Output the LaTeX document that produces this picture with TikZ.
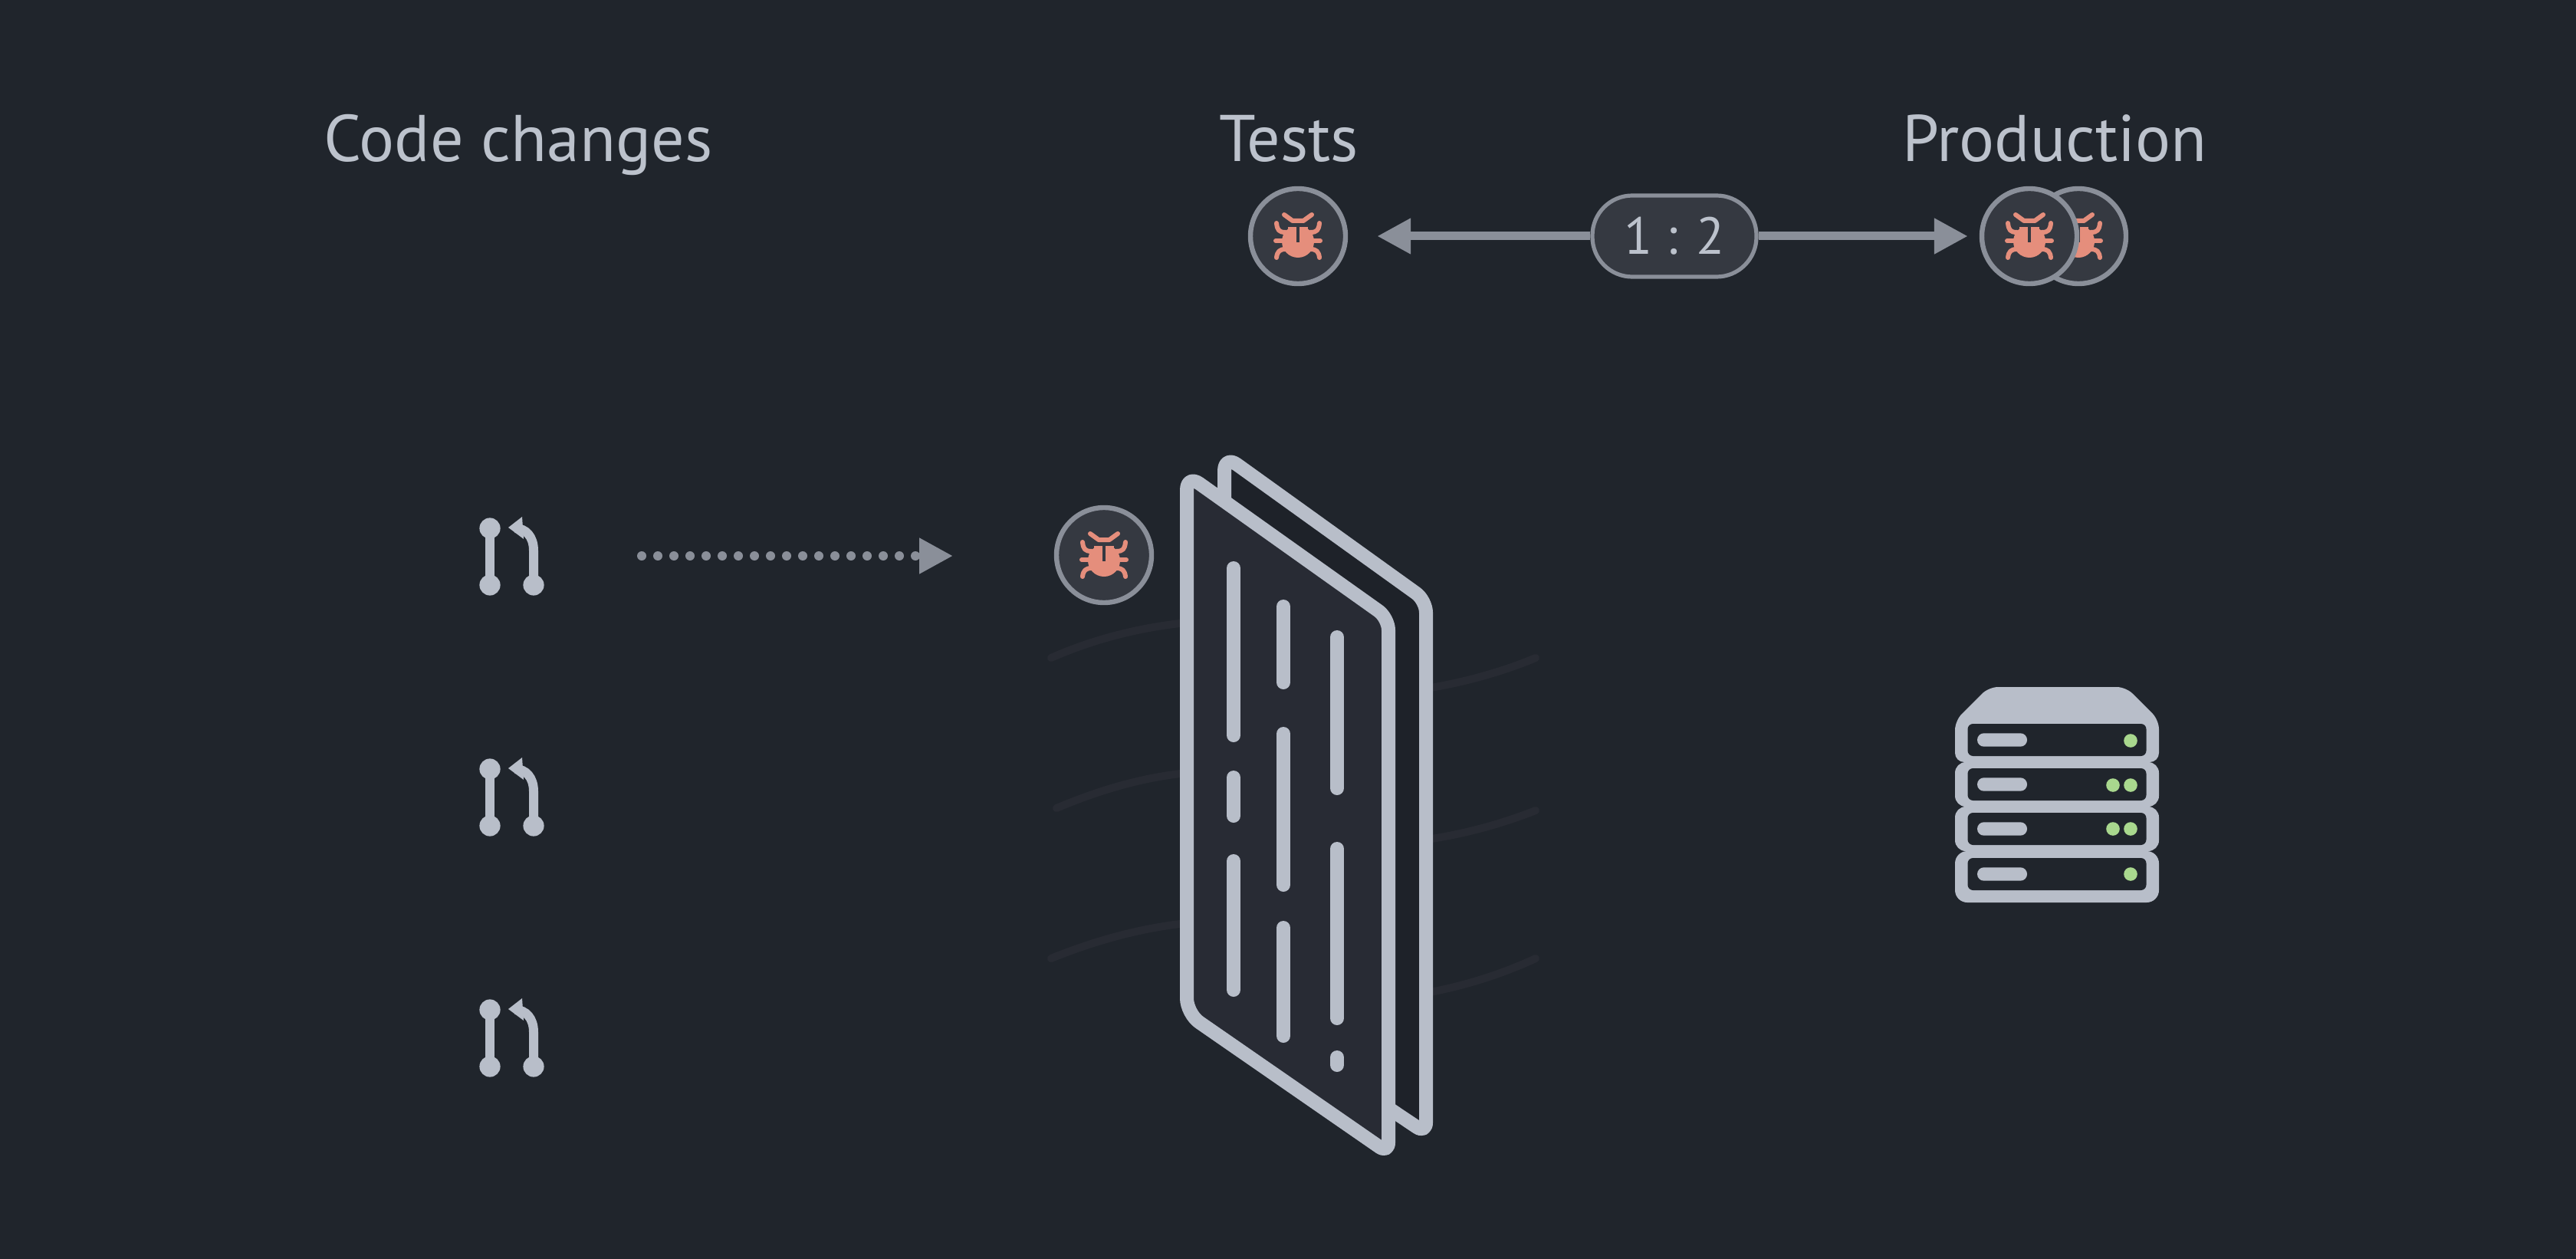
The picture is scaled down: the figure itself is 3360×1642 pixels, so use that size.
\documentclass[tikz,border=0pt]{standalone}
\usepackage{fontspec}
\setmainfont{PT Sans}
\usetikzlibrary{arrows.meta}
\definecolor{bgc}{HTML}{20252C}
\definecolor{lightc}{HTML}{B8BEC9}
\definecolor{textc}{HTML}{BCC2CC}
\definecolor{greyc}{HTML}{8A8F99}
\definecolor{discfill}{HTML}{353941}
\definecolor{bugc}{HTML}{E58E7C}
\definecolor{pagefill}{HTML}{282B34}
\definecolor{backfill}{HTML}{1E2229}
\definecolor{wavec}{HTML}{282B33}
\definecolor{greenc}{HTML}{A9D88E}
\tikzset{
  x=0.5pt,y=-0.5pt,
  title/.style={text=textc,font=\fontsize{43}{50}\selectfont,inner sep=0pt,anchor=base},
  bugdisc/.style={circle,draw=greyc,fill=discfill,line width=3.2pt,minimum size=62pt,inner sep=0pt},
  ratiopill/.style={draw=greyc,fill=discfill,line width=2.6pt,rounded corners=26pt,minimum width=107pt,minimum height=53pt,inner sep=0pt,text=textc,font=\fontsize{34}{42}\selectfont},
  conn/.style={draw=greyc,line width=5.5pt,-{Triangle[length=22pt,width=22pt]}},
  dotconn/.style={draw=greyc,line width=6pt,line cap=round,dash pattern=on 0pt off 10.5pt,-{Triangle[length=22pt,width=22pt]}},
  bugleg/.style={draw=bugc,line width=3pt,line cap=round,line join=round},
  prline/.style={draw=lightc,line width=6pt},
  pageline/.style={draw=lightc,line width=9pt,line join=round},
  codeline/.style={draw=lightc,line width=9pt,line cap=round},
  waveline/.style={draw=wavec,line width=5pt,line cap=round},
  bug/.pic={
    \fill[bugc] (0,7) ellipse [x radius=10.5pt,y radius=10.5pt];
    \draw[bugleg] (-18,-28) -- (-7,-20) -- (7,-20) -- (18,-28);
    \draw[bugleg] (-28,-17) .. controls (-27,-8) and (-25,-5) .. (-16,-5);
    \draw[bugleg] (28,-17) .. controls (27,-8) and (25,-5) .. (16,-5);
    \draw[bugleg] (-29,6) -- (-16,6);
    \draw[bugleg] (29,6) -- (16,6);
    \draw[bugleg] (-28,28) .. controls (-27,20) and (-24,17) .. (-16,17);
    \draw[bugleg] (28,28) .. controls (27,20) and (24,17) .. (16,17);
    \fill[bugc] (-13,-12) rectangle (13,4);
    \draw[discfill,line width=1.5pt] (-9,-13.5) -- (9,-13.5);
    \draw[discfill,line width=1.8pt] (0,-14) -- (0,8);
  },
  prpic/.pic={
    \draw[prline] (-25,-37) -- (-25,37);
    \fill[lightc] (-25,-37) circle [radius=6.8pt];
    \fill[lightc] (-25,37) circle [radius=6.8pt];
    \fill[lightc] (32,37) circle [radius=6.8pt];
    \draw[prline] (32,37) -- (32,-8) .. controls (32,-26) and (22,-37) .. (8,-37);
    \fill[lightc] (-1,-38) -- (17,-52) -- (19,-23) -- cycle;
  },
  srvrow/.pic={
    \fill[bgc,rounded corners=3.5pt] (-116.5,-21) rectangle (116.5,21);
    \fill[lightc,rounded corners=4.3pt] (-104,-8.7) rectangle (-39,8.7);
  }
}
\begin{document}
\begin{tikzpicture}
\useasboundingbox (0,0) rectangle (3360,1642);
\fill[bgc] (0,0) rectangle (3360,1642);

% titles
\node[title] (tcode) at (676,211) {Code changes};
\node[title] (ttests) at (1681,211) {Tests};
\node[title] (tprod) at (2680,211) {Production};

% ratio row
\node[bugdisc] (bugtest) at (1693,308) {};
\pic at (bugtest) {bug};
\node[ratiopill] (pill) at (2184,308) {1 : 2};
\node[bugdisc] (bugback) at (2711,308) {};
\pic at (bugback) {bug};
\node[bugdisc] (bugfront) at (2647,308) {};
\pic at (bugfront) {bug};
\draw[conn,shorten >=19pt] (pill.west) -- (bugtest.east);
\draw[conn,shorten >=7.5pt] (pill.east) -- (bugfront.west);

% pull request icons
\coordinate (pr1) at (664,726);
\coordinate (pr2) at (664,1040);
\coordinate (pr3) at (664,1354);
\pic at (pr1) {prpic};
\pic at (pr2) {prpic};
\pic at (pr3) {prpic};

% dotted arrow and bug
\node[bugdisc] (bugpage) at (1440,724) {};
\pic at (bugpage) {bug};
\coordinate (dotstart) at (837,725);
\coordinate (dotend) at (1243,725);
\draw[dotconn] (dotstart) -- (dotend);

% faint streaks
\draw[waveline] (1371,858) .. controls (1430,832) and (1490,818) .. (1548,812);
\draw[waveline] (1378,1054) .. controls (1435,1030) and (1490,1014) .. (1548,1008);
\draw[waveline] (1371,1250) .. controls (1430,1226) and (1490,1210) .. (1548,1204);
\draw[waveline] (1860,898) .. controls (1910,890) and (1960,876) .. (2003,858);
\draw[waveline] (1860,1095) .. controls (1910,1088) and (1960,1074) .. (2003,1057);
\draw[waveline] (1860,1295) .. controls (1910,1286) and (1960,1270) .. (2003,1250);

% document sheets
\draw[pageline,fill=backfill]
  (1597,700) [rounded corners=10pt] -- (1597,594) [rounded corners=8pt] -- (1860,783) [rounded corners=7pt]
  -- (1860,1478) [sharp corners] -- (1597,1302) -- cycle;
\draw[pageline,fill=pagefill]
  (1548,800) [rounded corners=10pt] -- (1548,619) [rounded corners=8pt] -- (1811,806) [rounded corners=7pt]
  -- (1811,1504) [rounded corners=10pt] -- (1548,1322) [sharp corners] -- cycle;

\foreach \xc/\ya/\yb in {1609/741/959,1609/1014/1064,1609/1123/1291,
  1674/791/890,1674/957/1154,1674/1210/1351,
  1744/831/1028,1744/1107/1328,1744/1379/1389}{
  \draw[codeline] (\xc,\ya) -- (\xc,\yb);
}

% server
\fill[lightc,rounded corners=6pt] (2550,994) -- (2550,940) -- (2594,896) -- (2773,896) -- (2816,939) -- (2816,994) -- cycle;
\fill[lightc,rounded corners=7pt] (2550,994) rectangle (2816,1052);
\fill[lightc,rounded corners=7pt] (2550,1052) rectangle (2816,1110);
\fill[lightc,rounded corners=8pt] (2550,1110) rectangle (2816,1177);
\coordinate (srv1) at (2683,965);
\coordinate (srv2) at (2683,1023);
\coordinate (srv3) at (2683,1081);
\coordinate (srv4) at (2683,1140);
\pic at (srv1) {srvrow};
\pic at (srv2) {srvrow};
\pic at (srv3) {srvrow};
\pic at (srv4) {srvrow};
\foreach \gx/\gy in {2779/966,2756/1024,2779/1024,2756/1081,2779/1081,2779/1140}{
  \fill[greenc] (\gx,\gy) circle [radius=4.4pt];
}
\end{tikzpicture}
\end{document}
